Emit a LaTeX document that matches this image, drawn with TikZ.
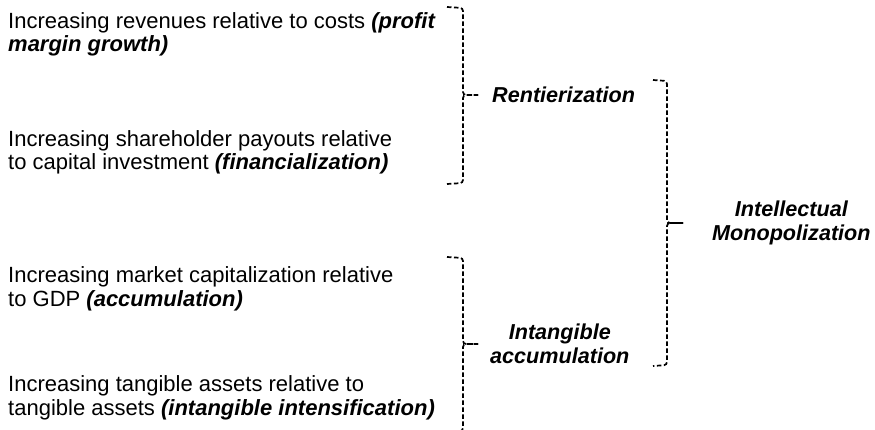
\documentclass[tikz,border=0pt]{standalone}
\usepackage{fontspec}
\setmainfont{Liberation Sans}
\usepackage{tikz}
\usetikzlibrary{positioning}

\begin{document}
\begin{tikzpicture}[
    x=1pt, y=-1pt,
    itemtext/.style={align=left, inner sep=0pt, font=\fontsize{22}{23.7}\selectfont},
    grouplabel/.style={align=center, inner sep=0pt, font=\fontsize{21.6}{24}\selectfont\bfseries\itshape},
    bracketline/.style={draw=black, line width=1.7pt, dash pattern=on 4.5pt off 2.5pt, rounded corners=3pt},
]
\useasboundingbox (0,0) rectangle (875,430);
% left column
\node[itemtext, anchor=base west](margin) at (8,52){Increasing revenues relative to costs \textbf{\textit{(profit}}\\\textbf{\textit{margin growth)}}};
\node[itemtext, anchor=base west](payout) at (8,170){Increasing shareholder payouts relative\\to capital investment \textbf{\textit{(financialization)}}};
\node[itemtext, anchor=base west](market) at (8,306){Increasing market capitalization relative\\to GDP \textbf{\textit{(accumulation)}}};
\node[itemtext, anchor=base west](tangible) at (8,415){Increasing tangible assets relative to\\tangible assets \textbf{\textit{(intangible intensification)}}};
% brackets
\coordinate(renttip) at (478,95);
\coordinate(intantip) at (478,344);
\coordinate(monotip) at (683,223);
\draw[bracketline] (447,7) -- (463,8) -- (463,95) -- (renttip);
\draw[bracketline] (renttip) -- (463,95) -- (463,183) -- (447,184);
\draw[bracketline] (447,257) -- (463,258) -- (463,344) -- (intantip);
\draw[bracketline] (intantip) -- (463,344) -- (463,431) -- (447,432);
\draw[bracketline] (653,80) -- (667,81) -- (667,223) -- (monotip);
\draw[bracketline] (monotip) -- (667,223) -- (667,365) -- (653,366);
% group labels
\node[grouplabel](rent)[right = 14pt of renttip]{Rentierization};
\node[grouplabel](intan)[right = 12pt of intantip]{Intangible\\accumulation};
\node[grouplabel](mono)[right = 29pt of monotip]{Intellectual\\Monopolization};
\end{tikzpicture}
\end{document}
